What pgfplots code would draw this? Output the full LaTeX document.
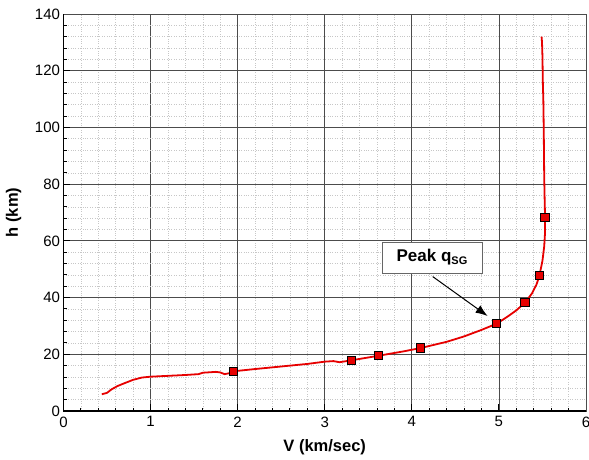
\documentclass[border=0pt]{standalone}
\usepackage{fontspec}
\setmainfont{Liberation Sans}
\usepackage{pgfplots}
\pgfplotsset{compat=1.18}
\usetikzlibrary{arrows.meta}
\definecolor{curvered}{RGB}{230,0,0}
\begin{document}
\begin{tikzpicture}
\useasboundingbox (-63.5pt,-48pt) rectangle (525.5pt,411pt);
\begin{axis}[
  scale only axis,
  width=522.5pt, height=397pt,
  xmin=0, xmax=6, ymin=0, ymax=140,
  xtick={0,1,...,6}, ytick={0,20,...,140},
  minor x tick num=4, minor y tick num=4,
  tick align=inside, tick pos=left,
  major tick length=7pt, minor tick length=3.5pt,
  every tick/.style={black, line width=0.9pt},
  grid=both,
  major grid style={black!70, line width=0.8pt},
  minor grid style={black!22, dotted, line width=0.6pt},
  axis line style={black!70, line width=0.8pt},
  /pgf/number format/assume math mode=true,
  ticklabel style={font=\fontsize{15}{18}\selectfont},
  xticklabel style={yshift=-2pt},
  xlabel={\textbf{V (km/sec)}},
  ylabel={\textbf{h (km)}},
  label style={font=\fontsize{16.5}{19}\selectfont},
  xlabel style={at={(rel axis cs:0.5,0)}, anchor=center, yshift=-36pt},
  ylabel style={at={(rel axis cs:0,0.5)}, anchor=center, yshift=50pt},
]
\addplot[curvered, line width=1.8pt, no marks] coordinates {
(0.44,5.9) (0.5,6.4) (0.55,7.6) (0.62,8.8) (0.7,9.8) (0.8,11.0) (0.9,11.8) (1.0,12.1)
(1.2,12.4) (1.4,12.7) (1.55,13.0) (1.6,13.5) (1.75,13.8) (1.8,13.6) (1.85,13.0) (1.9,13.3)
(1.95,14.0) (2.2,14.8) (2.5,15.7) (2.8,16.6) (3.0,17.4) (3.1,17.6) (3.17,17.2) (3.31,17.9)
(3.62,19.5) (3.9,21.0) (4.1,22.2) (4.4,24.4) (4.6,26.3) (4.8,28.6) (4.975,30.8) (5.1,33.3)
(5.2,35.5) (5.30,38.2) (5.38,41.5) (5.43,44.5) (5.465,47.7) (5.5,53) (5.52,58) (5.53,63)
(5.53,68.3) (5.525,75) (5.52,83) (5.515,99) (5.51,110) (5.505,115) (5.50,125) (5.495,130) (5.49,132)
};
\addplot[only marks, mark=square*, mark size=4.2pt, mark options={fill=curvered, draw=black, line width=0.9pt}] coordinates {
(1.95,14.0) (3.31,17.9) (3.62,19.5) (4.10,22.2) (4.975,30.8) (5.30,38.2) (5.465,47.7) (5.53,68.3)
};
\draw[black, line width=1pt, -{Latex[length=12pt, width=9pt]}] (axis cs:4.24,47.4) -- (axis cs:4.87,33.5);
\node[draw=black!60, fill=white, line width=0.8pt, minimum width=100pt, minimum height=31pt, inner sep=2pt,
  font=\fontsize{17}{20}\selectfont\bfseries] at (axis cs:4.234,54.1) {Peak q$_{\textbf{\fontsize{11}{12}\selectfont SG}}$};
\end{axis}
\draw[black, line width=1.6pt] (0,397pt) -- (0,0) -- (522.5pt,0);
\end{tikzpicture}
\end{document}
